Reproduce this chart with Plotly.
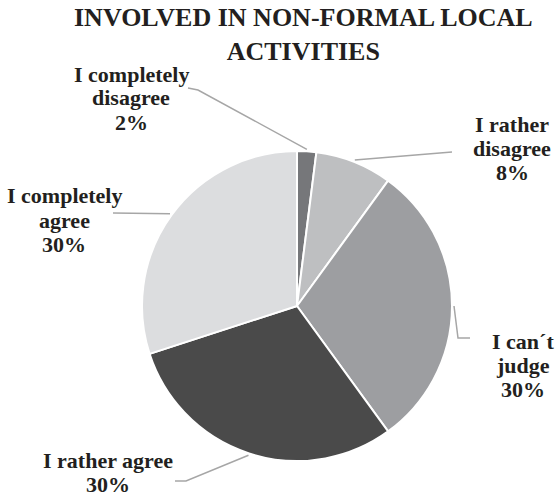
import math
import plotly.graph_objects as go

# Survey answers and their shares (%)
categories = ["I completely disagree", "I rather disagree", "I can´t judge",
              "I rather agree", "I completely agree"]
shares = [2, 8, 30, 30, 30]
label_lines = [
    ["I completely", "disagree", "2%"],
    ["I rather", "disagree", "8%"],
    ["I can´t", "judge", "30%"],
    ["I rather agree", "30%"],
    ["I completely", "agree", "30%"],
]
title_lines = ["INVOLVED IN NON-FORMAL LOCAL", "ACTIVITIES"]
colors = ["#76777a", "#bebfc1", "#9d9ea1", "#4a4a4a", "#dcdddf"]

W, H = 558, 499
CX, CY, R = 297, 306, 155  # pie centre and radius in pixels
SERIF = "Liberation Serif, Times New Roman, serif"

def px(x):
    return x / W

def py(y):
    return 1 - y / H

fig = go.Figure(go.Pie(
    labels=categories,
    values=shares,
    sort=False,
    direction="clockwise",
    rotation=0,
    marker=dict(colors=colors, line=dict(color="white", width=2)),
    textinfo="none",
    hoverinfo="label+percent",
    showlegend=False,
    domain=dict(x=[px(CX - R), px(CX + R)], y=[py(CY + R), py(CY - R)]),
))

# label block placement: centre x, first line y, line step (pixels)
label_pos = [(131, 74, 24), (512, 124, 24), (523, 341, 24), (108, 460, 24), (64, 196, 24)]
# leader-line bend and end points after the slice edge
leader_pts = [
    [(198, 90), (188, 88)],
    [(452, 152)],
    [(458, 338), (470, 338)],
    [(186, 481), (175, 481)],
    [(113, 213)],
]

annotations = []
shapes = []
total = sum(shares)
cum = 0
for i, v in enumerate(shares):
    mid = (cum + v / 2) / total * 2 * math.pi
    cum += v
    ex = CX + (R + 2) * math.sin(mid)
    ey = CY - (R + 2) * math.cos(mid)
    pts = [(ex, ey)] + leader_pts[i]
    path = "M " + " L ".join(f"{px(x)} {py(y)}" for x, y in pts)
    shapes.append(dict(type="path", xref="paper", yref="paper", path=path,
                       line=dict(color="#a6a6a6", width=1.5)))
    lx, ly, step = label_pos[i]
    for k, line in enumerate(label_lines[i]):
        annotations.append(dict(
            x=px(lx), y=py(ly + k * step), xref="paper", yref="paper",
            text=line, showarrow=False,
            xanchor="center", yanchor="middle",
            font=dict(family=SERIF, size=22, color="#231f20", weight="bold"),
        ))

annotations.append(dict(
    x=px(303), y=py(35), xref="paper", yref="paper",
    text="<br>".join(title_lines), showarrow=False,
    xanchor="center", yanchor="middle",
    font=dict(family=SERIF, size=26, color="#231f20", weight="bold"),
))

fig.update_layout(
    width=W, height=H,
    margin=dict(l=0, r=0, t=0, b=0),
    paper_bgcolor="white",
    plot_bgcolor="white",
    annotations=annotations,
    shapes=shapes,
)

fig.write_html("out.html")
